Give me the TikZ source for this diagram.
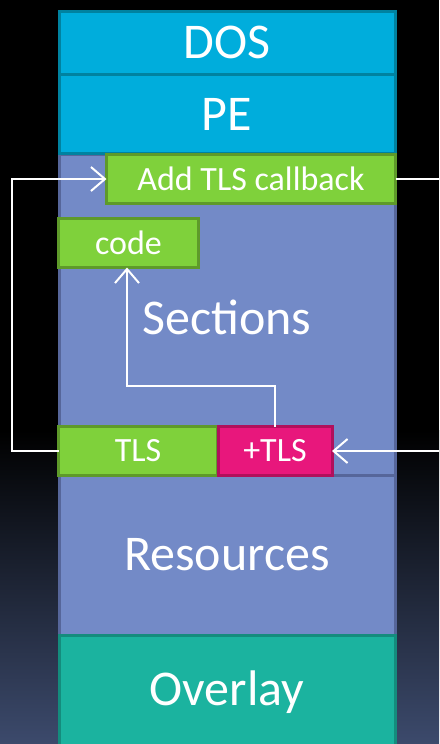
\documentclass[tikz,border=0pt]{standalone}
\usepackage{fontspec}
\setmainfont{Carlito}
\usetikzlibrary{arrows.meta}
\definecolor{cyanfill}{RGB}{0,173,220}
\definecolor{cyanline}{RGB}{0,130,160}
\definecolor{secfill}{RGB}{115,138,199}
\definecolor{secline}{RGB}{86,102,154}
\definecolor{grnfill}{RGB}{127,209,59}
\definecolor{grnline}{RGB}{94,154,42}
\definecolor{magfill}{RGB}{232,23,124}
\definecolor{magline}{RGB}{176,16,92}
\definecolor{ovlfill}{RGB}{27,179,159}
\definecolor{ovlline}{RGB}{20,140,125}
\definecolor{bgbot}{RGB}{60,74,108}
\tikzset{
  blk/.style={draw, line width=3pt, anchor=north west, inner sep=0pt, outer sep=0pt, text=white},
  bigtxt/.style={font=\fontsize{50}{50}\selectfont},
  smalltxt/.style={font=\fontsize{34}{34}\selectfont},
  conn/.style={white, line width=2pt},
  tip/.style={-{Straight Barb[length=14pt,width=24pt,line width=2pt]}},
}
\begin{document}
\begin{tikzpicture}[x=1pt,y=-1pt]
\useasboundingbox (0,0) rectangle (439,744);
\fill[black] (0,0) rectangle (439,430);
\shade[top color=black, bottom color=bgbot] (0,430) rectangle (439,744);
% main blocks
\node[blk, bigtxt, draw=secline, fill=secfill, minimum width=336pt, minimum height=322pt] (sec) at (59,154) {};
\node[bigtxt, text=white] (sectxt) at (227,317) {Sections};
\node[blk, bigtxt, draw=secline, fill=secfill, minimum width=336pt, minimum height=160pt] (res) at (59,475) {Resources};
\node[blk, bigtxt, draw=ovlline, fill=ovlfill, minimum width=336pt, minimum height=120pt, anchor=north west] (ovl) at (59,635) {};
\node[bigtxt, text=white] (ovltxt) at (227,692) {Overlay};
\node[blk, bigtxt, draw=cyanline, fill=cyanfill, minimum width=336pt, minimum height=63.5pt] (dos) at (59,11) {DOS};
\node[blk, bigtxt, draw=cyanline, fill=cyanfill, minimum width=336pt, minimum height=79pt] (pe) at (59,74.5) {PE};
% inner blocks
\node[blk, smalltxt, draw=grnline, fill=grnfill, minimum width=289pt, minimum height=49pt] (cb) at (106.5,154.5) {Add TLS callback};
\node[blk, smalltxt, draw=grnline, fill=grnfill, minimum width=140pt, minimum height=49pt] (code) at (58.5,218.5) {code};
\node[blk, smalltxt, draw=grnline, fill=grnfill, minimum width=159pt, minimum height=49pt] (tls) at (58.5,426.5) {TLS};
\node[blk, smalltxt, draw=magline, fill=magfill, minimum width=114pt, minimum height=49pt] (ptls) at (218,426.5) {+TLS};
% connectors
\coordinate (rin) at (439,451);
\coordinate (rout) at (439,179);
\draw[conn, tip] (tls.west) -- (12,451) -- (12,179) -- (cb.west);
\draw[conn] (cb.east) -- (rout);
\draw[conn, tip] (rin) -- (ptls.east);
\draw[conn, tip] (ptls.north) -- (275,386) -- (127,386) -- (code.south -| 127,0);
\end{tikzpicture}
\end{document}
